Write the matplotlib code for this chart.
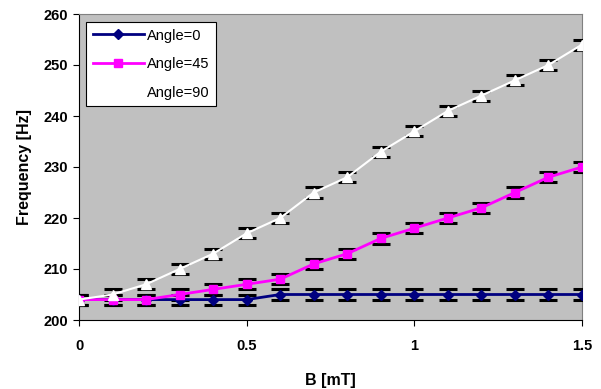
import matplotlib
matplotlib.use("Agg")
import matplotlib.pyplot as plt

plt.rcParams['font.family'] = ['Liberation Sans', 'DejaVu Sans']

B = [0, 0.1, 0.2, 0.3, 0.4, 0.5, 0.6, 0.7, 0.8, 0.9, 1.0, 1.1, 1.2, 1.3, 1.4, 1.5]
f0 = [204, 204, 204, 204, 204, 204, 205, 205, 205, 205, 205, 205, 205, 205, 205, 205]
f45 = [204, 204, 204, 205, 206, 207, 208, 211, 213, 216, 218, 220, 222, 225, 228, 230]
f90 = [204, 205, 207, 210, 213, 217, 220, 225, 228, 233, 237, 241, 244, 247, 250, 254]
err = 1.0

fig = plt.figure(figsize=(6.01, 3.89), dpi=100)
ax = fig.add_axes([79 / 601, 1 - 320 / 389, 503 / 601, 306 / 389])
ax.set_facecolor('#C0C0C0')

eb = dict(ecolor='black', elinewidth=1.5, capsize=6.5, capthick=2.2, zorder=3)
ax.errorbar(B, f0, yerr=err, color='#000080', marker='D', markersize=5,
            lw=2, label='Angle=0', **eb)
ax.errorbar(B, f45, yerr=err, color='#FF00FF', marker='s', markersize=6,
            lw=2, label='Angle=45', **eb)
ax.errorbar(B, f90, yerr=err, color='white', marker='^', markersize=7,
            lw=1.5, label='Angle=90', **eb)

ax.set_xlim(0, 1.5)
ax.set_ylim(200, 260)
ax.set_xticks([0, 0.5, 1, 1.5])
ax.set_xticklabels(['0', '0.5', '1', '1.5'])
ax.set_yticks(range(200, 261, 10))
ax.tick_params(axis='x', direction='out', length=4, pad=10, labelsize=10.5)
ax.tick_params(axis='y', direction='out', length=4, pad=4, labelsize=10.5)
for lab in ax.get_xticklabels() + ax.get_yticklabels():
    lab.set_fontweight('bold')

for s in ['top', 'right']:
    ax.spines[s].set_color('#808080')
for s in ['left', 'bottom']:
    ax.spines[s].set_color('black')

ax.set_xlabel('B [mT]', fontsize=11.5, fontweight='bold', labelpad=14)
ax.set_ylabel('Frequency [Hz]', fontsize=11.5, fontweight='bold', labelpad=8)

handles, labels = ax.get_legend_handles_labels()
handles = [h[0] for h in handles]
leg = ax.legend(handles, labels, loc='upper left', bbox_to_anchor=(0.0139, 0.974),
                borderaxespad=0, fontsize=10.5, fancybox=False, framealpha=1,
                edgecolor='black', borderpad=0.45, labelspacing=1.0,
                handlelength=3.5, handletextpad=0.2)
leg.get_frame().set_linewidth(0.8)

fig.savefig('out.png', dpi=100)
